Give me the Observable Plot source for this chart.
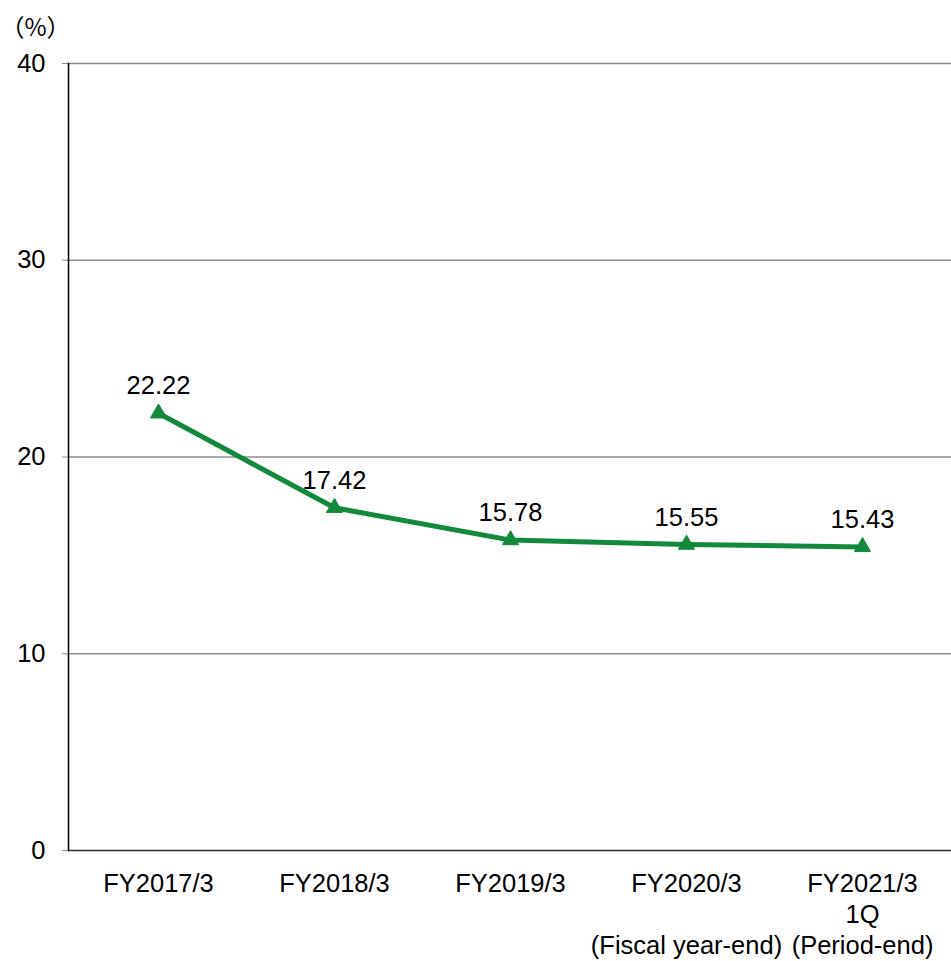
<!DOCTYPE html>
<html>
<head>
<meta charset="utf-8">
<script src="https://cdn.jsdelivr.net/npm/d3@7"></script>
<script src="https://cdn.jsdelivr.net/npm/@observablehq/plot@0.6"></script>
<style>
  html, body { margin: 0; padding: 0; background: #fff; }
  #chart svg { display: block; }
</style>
</head>
<body>
<div id="chart"></div>
<script>
// Fiscal periods on the x axis
const categories = ["FY2017/3", "FY2018/3", "FY2019/3", "FY2020/3", "FY2021/3"];
// Ratio (%) for each period
const values = [22.22, 17.42, 15.78, 15.55, 15.43];
// Multi-line tick labels for the x axis
const tickLabels = [
  "FY2017/3",
  "FY2018/3",
  "FY2019/3",
  "FY2020/3\n\n(Fiscal year-end)",
  "FY2021/3\n1Q\n(Period-end)"
];
// Y axis ticks
const yTicks = [0, 10, 20, 30, 40];
const unitLabel = "（%）";

const data = categories.map((c, i) => ({period: c, value: values[i]}));
const labelOf = new Map(categories.map((c, i) => [c, tickLabels[i]]));

const green = "#12893b";
const font = "'Liberation Sans', Arial, sans-serif";
const fs = 25.5;

const chart = Plot.plot({
  width: 951,
  height: 961,
  marginLeft: 68,
  marginRight: 0,
  marginTop: 63,
  marginBottom: 111,
  style: {fontFamily: font, fontSize: fs + "px", color: "#000", background: "#fff"},
  x: {type: "band", domain: categories, padding: 0},
  y: {domain: [0, 40]},
  marks: [
    Plot.gridY(yTicks.filter(d => d > 0), {stroke: "#8c8c8c", strokeOpacity: 1, strokeWidth: 1.5}),
    Plot.axisY(yTicks, {
      tickSize: 6, tickPadding: 17, stroke: "#8c8c8c", strokeOpacity: 1,
      fill: "#000", fontSize: fs, label: null
    }),
    Plot.axisX({
      tickSize: 0, tickPadding: 19, fill: "#000", fontSize: fs, label: null,
      lineHeight: 1.22,
      tickFormat: d => labelOf.get(d)
    }),
    Plot.ruleY([0], {stroke: "#333", strokeWidth: 1.5}),
    Plot.frame({anchor: "left", stroke: "#000", strokeWidth: 1.5}),
    Plot.line(data, {x: "period", y: "value", stroke: green, strokeWidth: 5}),
    Plot.dot(data, {x: "period", y: "value", symbol: "triangle", r: 6, fill: green, stroke: green, strokeWidth: 1}),
    Plot.text(data, {x: "period", y: "value", text: d => d.value.toFixed(2), dy: -27, fontSize: fs, fill: "#000"}),
    Plot.text([unitLabel], {
      frameAnchor: "top-left", dx: -68, dy: -45, textAnchor: "start",
      fontSize: 24, fill: "#000", fontFamily: "'Noto Sans CJK JP', sans-serif"
    })
  ]
});

document.getElementById("chart").appendChild(chart);
</script>
</body>
</html>
